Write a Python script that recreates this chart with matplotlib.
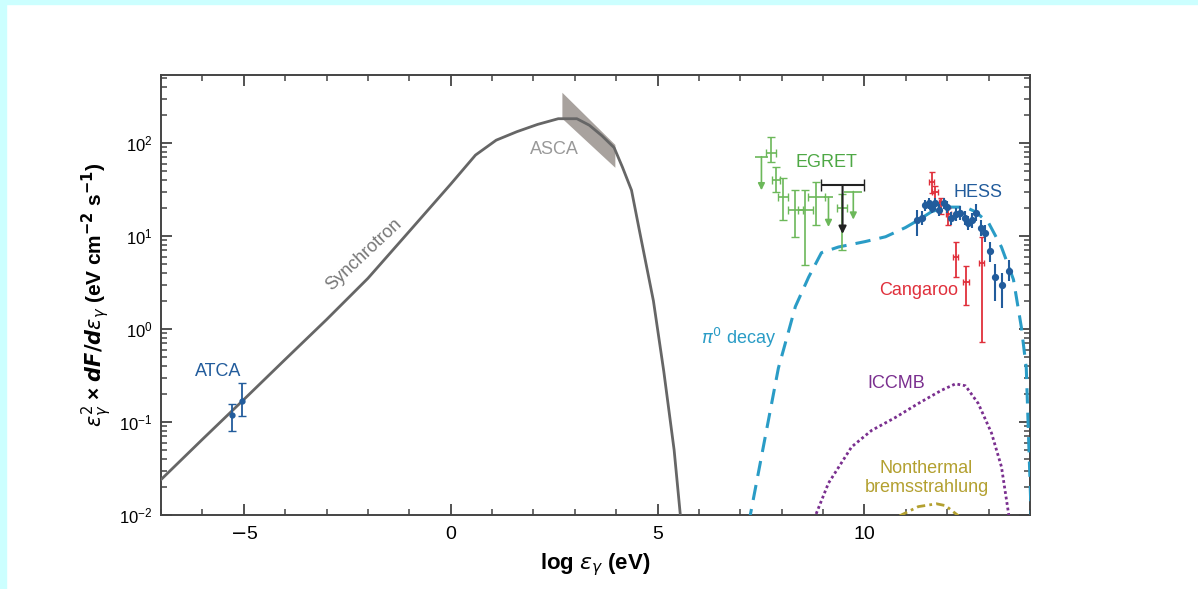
import matplotlib
matplotlib.use("Agg")
import matplotlib.pyplot as plt
from matplotlib.patches import Rectangle, Polygon
from matplotlib.ticker import MultipleLocator, LogLocator

plt.rcParams['font.family'] = ['Liberation Sans', 'DejaVu Sans']
plt.rcParams['mathtext.fontset'] = 'dejavusans'

# --- model curves: log photon energy (eV) vs flux (eV cm^-2 s^-1) ---
sync_x = [-7.0, -6.0, -5.0, -4.0, -3.0, -2.0, -1.0, 0.0, 0.6, 1.1, 1.6, 2.1, 2.6,
          3.05, 3.35, 3.65, 3.95, 4.15, 4.37, 4.56, 4.9, 5.15, 5.4, 5.55, 5.6]
sync_y = [0.024, 0.065, 0.174, 0.47, 1.26, 3.5, 11.2, 36, 74, 107, 132, 158, 182,
          182, 155, 120, 89, 55, 31, 11.5, 2.0, 0.35, 0.05, 0.01, 0.007]

pi0_x = [7.2, 7.25, 7.92, 8.04, 8.33, 8.65, 8.96, 9.37, 10.02, 10.51, 10.99, 11.30,
         11.62, 11.96, 12.44, 12.68, 13.0, 13.31, 13.6, 13.79, 13.91, 13.96, 14.05]
pi0_y = [0.008, 0.0105, 0.38, 0.59, 1.74, 3.6, 6.6, 7.6, 8.7, 9.8, 12.3, 14.8,
         18.2, 20.4, 20.4, 18.2, 13.8, 7.6, 3.4, 1.05, 0.38, 0.081, 0.005]

iccmb_x = [8.8, 8.84, 9.13, 9.69, 10.17, 10.75, 11.30, 11.86, 12.2, 12.44, 12.75,
           13.07, 13.31, 13.48, 13.5]
iccmb_y = [0.009, 0.0105, 0.022, 0.054, 0.081, 0.112, 0.158, 0.219, 0.257, 0.245,
           0.158, 0.076, 0.033, 0.0105, 0.009]

brems_x = [10.85, 11.30, 11.74, 11.96, 12.27]
brems_y = [0.0098, 0.0123, 0.0132, 0.0126, 0.0098]

# ASCA bow-tie corners
asca_x = [2.70, 3.98, 3.98, 2.70]
asca_y = [346, 95, 54, 182]

# --- data points ---
atca_x = [-5.29, -5.05]
atca_y = [0.12, 0.17]
atca_lo = [0.079, 0.115]
atca_hi = [0.155, 0.26]

egret_x = [7.75, 7.87, 8.04, 8.33, 8.57, 8.84, 9.45]
egret_y = [78, 40, 26, 19, 19, 26, 20]
egret_lo = [63, 30, 15, 9.8, 4.9, 13, 7.1]
egret_hi = [116, 55, 42, 31, 31, 38, 28]
egret_xerr = [0.12, 0.10, 0.12, 0.18, 0.18, 0.20, 0.12]

egret_ul_x = [7.51, 9.13, 9.73]
egret_ul_y = [71, 26, 30]
egret_ul_end = [31, 12.5, 15]
egret_ul_xerr = [0.15, 0.12, 0.22]

black_ul_x = [8.96, 9.98]
black_ul_y = 35
black_ul_end = 10.5

hess_x = [11.28, 11.38, 11.47, 11.55, 11.62, 11.71, 11.79, 11.91, 12.0, 12.1, 12.2,
          12.3, 12.44, 12.51, 12.6, 12.7, 12.82, 12.92, 13.04, 13.16, 13.33, 13.5]
hess_y = [14.8, 15.5, 21.4, 22.4, 20.0, 22.4, 19.1, 22.4, 20.4, 15.5, 17.0,
          17.8, 15.5, 13.8, 14.8, 17.8, 12.3, 10.7, 6.9, 3.6, 2.95, 4.2]
hess_lo = [10.0, 13.0, 18.5, 19.5, 17.5, 19.5, 16.5, 19.5, 17.8, 13.2, 14.5,
           15.0, 13.0, 11.5, 12.3, 14.5, 10.0, 8.5, 5.2, 2.0, 1.7, 3.3]
hess_hi = [19.1, 18.5, 24.5, 25.5, 23.0, 25.5, 22.0, 25.5, 23.5, 18.0, 20.0,
           21.0, 18.5, 16.5, 17.8, 22.0, 15.0, 13.2, 8.7, 5.0, 4.0, 5.5]

cang_x = [11.62, 11.71, 11.86, 12.03, 12.2, 12.46, 12.83]
cang_y = [38, 29.5, 23.4, 17, 5.9, 3.2, 5.1]
cang_lo = [28.8, 22.4, 17, 13.2, 3.6, 1.8, 0.72]
cang_hi = [49, 34, 25.7, 20, 8.7, 4.7, 9.8]

c_sync = '#666666'
c_pi0 = '#2a9cc6'
c_icc = '#7a2f8f'
c_brems = '#b3a030'
c_egret = '#6cb85a'
c_hess = '#225c9c'
c_cang = '#e0303c'


def yerrs(y, lo, hi):
    return [[a - b for a, b in zip(y, lo)], [b - a for a, b in zip(y, hi)]]


fig = plt.figure(figsize=(11.98, 5.89), dpi=100)
fig.patches.append(Rectangle((0, 1 - 4 / 589), 1, 4 / 589, transform=fig.transFigure,
                             color='#ccffff', zorder=0))
fig.patches.append(Rectangle((0, 0), 6 / 1198, 1, transform=fig.transFigure,
                             color='#ccffff', zorder=0))

ax = fig.add_axes([161 / 1198, 1 - 515 / 589, (1030 - 161) / 1198, (515 - 75) / 589])
ax.set_yscale('log')
ax.set_xlim(-7, 14)
ax.set_ylim(1e-2, 10 ** 2.73)

# models
ax.add_patch(Polygon(list(zip(asca_x, asca_y)), closed=True, facecolor='#a8a29e',
                     edgecolor='none', zorder=2))
ax.plot(sync_x, sync_y, color=c_sync, lw=2.0, zorder=3)
ax.plot(pi0_x, pi0_y, color=c_pi0, lw=2.2, dashes=(5, 3), zorder=3)
ax.plot(iccmb_x, iccmb_y, color=c_icc, lw=2.0, dashes=(1, 1), zorder=3)
ax.plot(brems_x, brems_y, color=c_brems, lw=2.0, dashes=(3, 1.5, 1, 1.5), zorder=3)

# ATCA
ax.errorbar(atca_x, atca_y, yerr=yerrs(atca_y, atca_lo, atca_hi), fmt='o', ms=3.5,
            color=c_hess, ecolor=c_hess, elinewidth=1.3, capsize=3, zorder=4)

# EGRET
ax.errorbar(egret_x, egret_y, yerr=yerrs(egret_y, egret_lo, egret_hi), xerr=egret_xerr,
            fmt='none', ecolor=c_egret, elinewidth=1.2, capsize=3, zorder=4)
ax.errorbar(egret_ul_x, egret_ul_y, xerr=egret_ul_xerr, fmt='none', ecolor=c_egret,
            elinewidth=1.2, capsize=0, zorder=4)
for x, y, y2 in zip(egret_ul_x, egret_ul_y, egret_ul_end):
    ax.annotate('', xy=(x, y2), xytext=(x, y),
                arrowprops=dict(arrowstyle='-|>', color=c_egret, lw=1.2,
                                mutation_scale=10, shrinkA=0, shrinkB=0), zorder=4)

# black upper limit
bx = (black_ul_x[0] + black_ul_x[1]) / 2
ax.errorbar([bx], [black_ul_y], xerr=[(black_ul_x[1] - black_ul_x[0]) / 2], fmt='none',
            ecolor='#222222', elinewidth=1.5, capsize=4, zorder=5)
ax.annotate('', xy=(bx, black_ul_end), xytext=(bx, black_ul_y),
            arrowprops=dict(arrowstyle='-|>', color='#222222', lw=1.5,
                            mutation_scale=11, shrinkA=0, shrinkB=0), zorder=5)

# Cangaroo
ax.errorbar(cang_x, cang_y, yerr=yerrs(cang_y, cang_lo, cang_hi), xerr=0.07,
            fmt='none', ecolor=c_cang, elinewidth=1.3, capsize=2.5, zorder=4)

# HESS
ax.errorbar(hess_x, hess_y, yerr=yerrs(hess_y, hess_lo, hess_hi), fmt='o', ms=4.2,
            color=c_hess, ecolor=c_hess, elinewidth=1.5, capsize=0, zorder=5)

# labels
tk = dict(fontsize=13, ha='center', va='center')
ax.text(-2.1, 6.3, 'Synchrotron', color='#777777', rotation=43, **tk)
ax.text(2.51, 84, 'ASCA', color='#999999', **tk)
ax.text(-5.63, 0.35, 'ATCA', color=c_hess, **tk)
ax.text(9.08, 61, 'EGRET', color='#4ea845', **tk)
ax.text(12.75, 29, 'HESS', color=c_hess, **tk)
ax.text(11.3, 2.6, 'Cangaroo', color=c_cang, **tk)
ax.text(6.96, 0.8, r'$\pi^0$ decay', color=c_pi0, **tk)
ax.text(10.77, 0.26, 'ICCMB', color=c_icc, **tk)
ax.text(11.5, 0.025, 'Nonthermal\nbremsstrahlung', color=c_brems, linespacing=1.15, **tk)

# axes styling
for s in ax.spines.values():
    s.set_color('#444444')
    s.set_linewidth(1.4)
ax.xaxis.set_major_locator(MultipleLocator(5))
ax.xaxis.set_minor_locator(MultipleLocator(1))
ax.yaxis.set_major_locator(LogLocator(base=10, numticks=10))
ax.yaxis.set_minor_locator(LogLocator(base=10, subs=range(2, 10), numticks=10))
ax.tick_params(which='both', direction='in', top=True, right=True, color='#444444')
ax.tick_params(which='major', length=8, width=1.3)
ax.tick_params(which='minor', length=4.5, width=1.1)
ax.tick_params(axis='x', labelsize=14, pad=8)
ax.tick_params(axis='y', labelsize=12, pad=6)
ax.set_xticklabels([r'$-$5' if t == -5 else str(int(t)) for t in ax.get_xticks()])

ax.set_xlabel(r'log $\boldsymbol{\epsilon_\gamma}$ (eV)', fontsize=16, fontweight='bold',
              labelpad=6)
ax.set_ylabel(r'$\boldsymbol{\varepsilon_\gamma^2}$ × $\boldsymbol{dF/d\epsilon_\gamma}$'
              r' (eV cm$^{\mathbf{-2}}$ s$^{\mathbf{-1}}$)',
              fontsize=15, fontweight='bold', labelpad=4)

fig.savefig('out.png', dpi=100)
